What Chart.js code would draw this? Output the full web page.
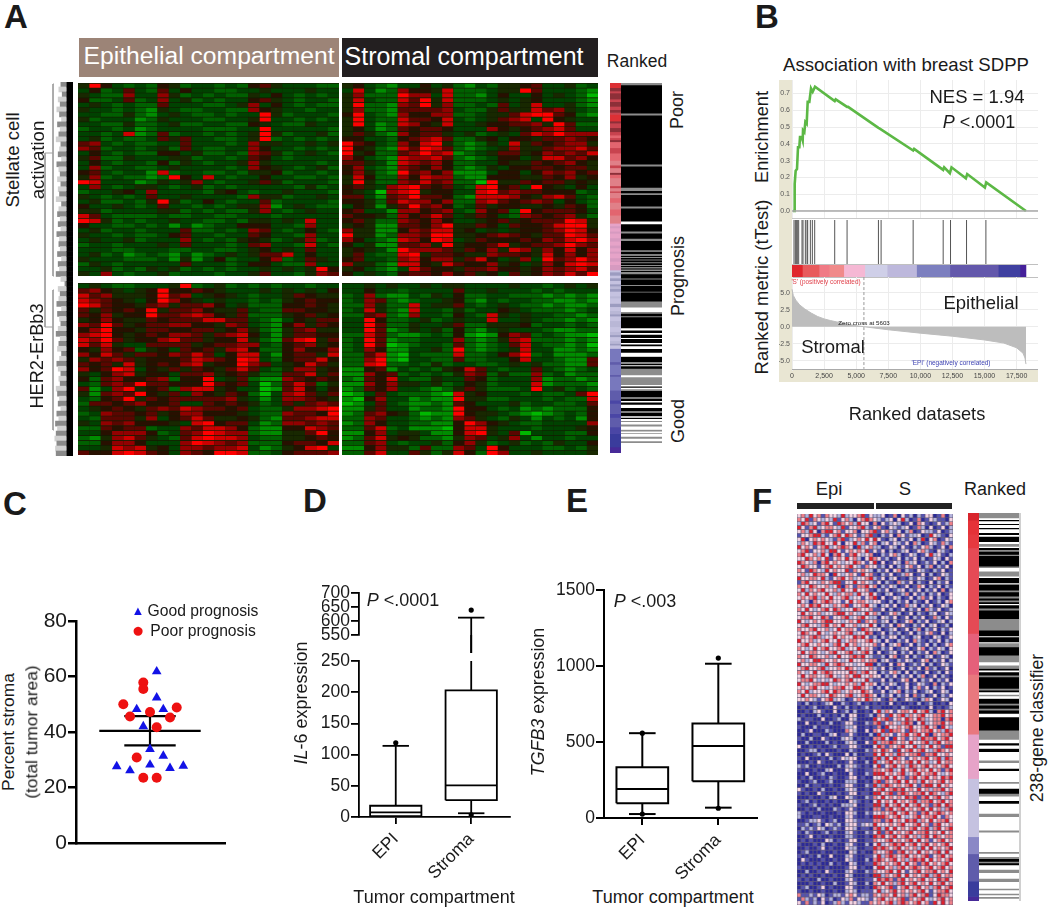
<!DOCTYPE html>
<html>
<head>
<meta charset="utf-8">
<title>Stromal and epithelial compartments</title>
<script src="https://cdn.jsdelivr.net/npm/chart.js@4/dist/chart.umd.min.js"></script>
<style>
html, body { margin: 0; background: #fff; }
#page { position: relative; width: 1050px; height: 910px; overflow: hidden; font-family: "Liberation Sans", Arial, sans-serif; color: #1a1a1a; }
#page canvas { position: absolute; }
.txt { position: absolute; white-space: nowrap; line-height: 1; }
.block { position: absolute; }
</style>
</head>
<body>
<div id="page"></div>
<script>
// panel A heat map, one letter per cell, 0 bright green .. 9 bright red
var epiTop = [
"49532 32542 33232 56433 322","35236 32635 33223 34333 433","43227 33742 32322 43532 323","52236 23734 23233 56432 332",
"34323 22633 32234 73532 322","43323 21432 23322 75433 233","33224 21343 22323 39423 332","42333 12433 32233 49332 323",
"33224 22342 23322 54322 433","23323 12333 32223 39333 332","33238 12623 32323 49423 342","34232 23646 33223 49232 323",
"67323 22336 33323 74433 434","76233 23426 32233 75332 323","35323 22553 42232 76423 432","46224 33344 23323 65323 333",
"35323 32524 32334 74333 323","37233 22343 33323 75432 342","56323 31823 32232 44523 323","47232 21295 38323 35332 232",
"98333 12434 73233 46423 332","37323 44323 42323 33332 423","23345 37333 32453 23343 332","43232 36334 33332 74423 343",
"34223 24942 35323 36233 332","53343 23633 23234 47134 322","44233 33442 32322 47323 433","86322 22322 33223 33233 333",
"98423 23343 32232 44343 833","53322 32313 12335 55332 733","34233 23336 22323 76323 532","43323 22356 33233 65332 733",
"34334 23337 32324 54234 723","23323 33436 33323 67332 832","33322 33322 33223 45343 633","34231 23213 12343 46683 533",
"43332 22314 13523 35723 643","24323 33336 33323 55322 733","33423 24342 32323 34343 495","43732 33423 33233 46332 476"
];
var stromaTop = [
"45321 33534 21324 45633 423","38312 75548 22234 49633 321","47222 97738 22135 33534 320","48322 86948 22234 34533 321",
"49221 76947 22326 34833 421","47221 66667 32246 44867 432","59321 75577 22344 68996 521","49322 86658 32346 78395 433",
"49312 87548 33455 66749 622","45312 65665 33375 45678 633","46421 75664 34234 36879 777","55332 56786 22453 55466 765",
"96532 75894 21243 84656 774","95421 86986 21234 74467 786","94522 67978 12346 64576 768","75321 87786 21235 53488 675",
"66431 87675 22335 44656 754","57321 76575 21243 55665 664","57421 96757 11135 53576 756","48522 75877 21155 54465 745",
"49422 76867 22094 46566 454","56437 89656 32895 63954 353","54307 89455 33896 76655 523","66316 79665 21888 75478 632",
"55426 87757 22786 56763 532","35414 69675 23645 54454 652","56331 77567 32756 29566 653","65542 75686 34653 27656 742",
"56422 76575 33456 45666 984","45411 66579 44653 65568 994","74411 57688 45343 45567 985","94412 77699 44567 65466 986",
"75321 87598 34655 56576 897","53411 66749 45568 45667 976","45431 97776 46574 87475 857","46322 89466 54476 65485 757",
"56332 78577 46853 47396 797","74421 88548 65574 53475 898","45321 38655 46675 54576 786","53432 56657 56453 64576 869"
];
var epiLow = [
"34322 33349 23423 23233 233","67543 45955 65433 34343 435","86744 45967 34543 23346 544","87654 35975 43433 23245 655",
"98655 46746 67534 22255 654","64656 59466 75446 32266 554","65745 59667 87546 22245 645","45754 46566 68866 32135 466",
"76964 56677 55476 32157 465","57955 46655 66457 42146 744","78954 56577 64678 53146 655","87964 55786 64558 42168 946",
"86843 36666 45667 73256 745","54756 24536 56478 52257 557","75864 66576 86358 83156 648","47676 45556 87659 83256 685",
"65648 45657 84559 76345 864","75698 35464 65468 63247 745","43578 45536 67456 42266 846","52675 56725 59346 21176 565",
"32676 96655 59656 30268 624","61379 45627 88453 30168 535","41676 95463 75465 20378 646","32569 46566 66674 31377 654",
"26656 75563 36565 42364 676","34565 46768 76656 32247 789","23766 56457 75554 32276 659","32666 47356 86445 42166 788",
"43767 55543 89566 31277 676","22656 62337 68875 21155 876","33577 75236 79877 21144 695","21478 64326 89887 32244 565",
"22577 53337 98767 22256 658","33487 84537 76778 31245 893","65589 86537 65998 22356 667"
];
var stromaLow = [
"33434 33434 43333 43323 434","33533 23333 63343 33232 333","23721 13243 52233 22212 121","23762 12334 52132 33221 121",
"22742 28344 63234 32212 112","23842 18332 42335 43222 123","22672 17332 53284 34332 212","33952 23423 43383 34322 121",
"33962 24334 62244 45233 232","33961 24342 52134 33321 122","22862 11232 51015 76232 110","23961 22333 72124 78222 121",
"23960 12332 62123 68322 120","23751 13342 92123 48331 121","22681 03222 82235 79231 112","22791 03322 62233 58332 116",
"22892 23242 33223 43422 116","11561 32324 58632 33632 123","11756 23232 47624 22723 122","21658 32243 36523 33712 212",
"11757 44342 35423 33812 221","12657 33212 46422 23934 232","01363 22210 84533 32322 369","10573 31211 94422 33323 228",
"01363 21121 65333 42332 236","11463 31221 95532 31212 225","12675 42011 95443 21012 325","22763 32121 76432 43132 315",
"12753 32211 59754 32233 337","22682 31110 58843 33233 345","11573 44311 58943 60333 225","12684 54221 47634 73133 233",
"22673 23342 57423 42324 335","11574 42622 76395 33322 324","22683 36424 85297 33433 334"
];

// panel A ranked strip and barcode, tone letter then run length
var rankStripA = ["r14","d10","m6","d18","m8","d14","m10","d8","m6","r20","d6","m14","d12","m10","s8","m6","d6","s18","m16","s22","t14","m8","t14","d6","s10","t24","m6","t10","m4","t16","s14","t20","s18","t24",
"p8","q6","p10","q6","p14","q10","p12","q8","p10","q6","p14","q10","p10","q16",
"l6","u10","l8","u8","l10","u6","v8","u8","l14","v6","l16","u10","l12","v10","u6","l14","v18","l14","v10","u6","l12","v8","u5","l10",
"b40","i8","b30","i6","b41","i30","n10","i30","n12","i28","n20","x40","y18"];
var rankBarsA = ["g6","k86","g6","k149","g6","k64","g10","k7","g5","k35","g6","k40","w8","k22","g6","k16","g7","k28","g5","k8","w3","k5","g3","k5","w2","k6","g3","k5","g3","k5","w2","k4","g4","k3","g7","k13","g3","k17","g3","k17","g3","k27","g18","w14","g5","k8","g3","k33","w7","k8","w5","k10","w3","k12","w5","k5","w8","k12","w12","k16","g6","k4","w3","k7","g20","w6","g24","w4","k4","w5","g5","k20","w3","k7","w5","k7","w10","k10","w3","k12","w4","k4","w6","g3","w8","g6","w10","g5","w5","g3","w8","g6","w8","g6"];

// panel B enrichment curve, gene hits, metric curve
var enrichRank = [78,156,208,286,390,468,572,624,754,832,858,962,1040,1144,1222,1352,1482,1612,1794,3328,3406,4290,4368,6734,6838,9438,9516,11778,11856,12298,12428,13546,13650,15028,15132,18226];
var enrichScore = [0,0,.16,.24,.25,.38,.38,.44,.44,.42,.48,.47,.53,.52,.65,.65,.73,.71,.74,.655,.665,.62,.62,.495,.49,.36,.37,.245,.26,.225,.26,.195,.22,.14,.17,0];
var enrichTicks = [0,.1,.2,.3,.4,.5,.6,.7];
var hitRanks = [156,260,338,416,520,780,858,1040,1170,1222,1430,1586,1768,3328,4290,6734,6942,9438,11778,12350,13598,15106];
var metricRank = [0,100,300,600,1000,1500,2000,2500,3000,3500,4000,5000,5603,7500,10000,12500,15000,16500,17500,18000,18150,18230];
var metricValue = [5.5,4.6,3.9,3.2,2.6,2,1.5,1.15,.9,.7,.5,.15,0,-.45,-.95,-1.4,-1.95,-2.4,-3.1,-3.9,-4.6,-5.5];
var metricTicks = [-5,-2.5,0,2.5,5];
var rankTicks = [0,2500,5000,7500,10000,12500,15000,17500];
var gseaStrip = [806,1300,780,1144,1638,1742,2288,2600,3770,1690,468];
var gseaStripColors = ["#e0262c","#e85a5c","#f07a85","#f08a8a","#f5b8d4","#cfcfe8","#bdb8dc","#7c7fbf","#6358ab","#3f40a0","#45209a"];

// panel C, offset from the column centre and percent stroma
var goodOffset = [6.7,6.7,-13.3,13.3,-6.7,0,13.3,0,-33.3,-20,20,33.3];
var goodStroma = [61.8,52.4,48.2,48.2,42,33.8,31.4,28.2,27.6,26.1,27,27.8];
var poorOffset = [-6.7,-6.7,-26.7,26.7,0,-20,20,6.7,-13.3,-6.7,6.7];
var poorStroma = [57.8,55.5,50,48.8,47.2,45.6,45.2,41.7,30.8,23.5,23.5];
var stromaMean = 40.4, stromaErrHigh = 45.7, stromaErrLow = 35.2;
var stromaTicks = [0,20,40,60,80];

// panels D and E, low whisker, q1, median, q3, high whisker
var compartments = ["EPI","Stroma"];
var il6Epi = [0,1.5,7.5,18,114], il6EpiOut = [119];
var il6Stroma = [6,27,50.7,203,612], il6StromaOut = [3.5,639];
var il6TicksLow = [0,50,100,150,200,250], il6TicksHigh = [550,600,650,700];
var tgfEpi = [26,97,191,334,558], tgfEpiOut = [26,558];
var tgfStroma = [68,241,474,621,1015], tgfStromaOut = [64,1052];
var tgfTicks = [0,500,1000,1500];

// panel F classifier, 0 deep blue .. 5 red
var classifier = [
"34253414332523345132 2301403120213301402","43514323251342034543 2123035201401321103","25423145315434253304 0312320130431013124","53145234432513345213 4103212301420301302",
"34253045534133403345 1342130240132213012","13345521345354312451 0213043122301532103","35034343214512343535 3102302130250340132","24325453353033524134 0231321304201321421",
"53431345234543052342 2013203102134201304","34513342553134343513 1302012301342103210","45334253045314532340 0213420132013523102","33543435134353420354 3120130213020132031",
"54324045343233543135 0301320423012130204","35433134534345321433 1203021341302402130","43154325343351434320 2130340210321021301","34235443053234315341 0213012430130201321",
"53344352134534233452 1302301021320134021","14533243455133534321 3021042130210302130","43354334235043144534 0213201301430213021","35243453342533533410 2130123021302130402",
"43534335324344253353 1023012403120213013","34345243533452331345 0301320130241302103","53204345433135344323 3102021302103012034","34354533243451334532 0231301423021301320",
"43532345354233543341 1302013021304213012","35343423345534323534 2013420130210230132","34453354133452345322 0321301302130142031","53234345533234351434 1230201340213012302",
"34533245343533423353 0213043102130230120","43345334235344315432 3012301302402130213","35433532343345233540 1302120130213410302","34345423353433545312 0213302102301032013",
"53342345335234433453 2031021304210213021","34533433245353423334 1302340130213020134","43235345334523353431 0213012301340213203","35344323453345234530 3012302130213042013",
"43354334235334545321 1203401302102301320","34235543343235334344 0231021320134021302","53344325345433233550 2103043012130201321","34533452334354323342 1302013021304120130",
"43235345433335424533 0213420302103012031","35344334532343553343 3021302130240130210","34453232354345333521 1302013403021302130","53234455323343425343 0213201301321040213",
"34345332344533554320 2031021302413021301","43523345354234335431 1302340213012301320","35344323543345234543 0213021304120130213","33432134523201343542 3104201321024301320",
"10201012300210120101 0103010010201200103","01012001031020101201 1000102100010301012",
"00102310030120200103 5243134435345204534","01000201010203300120 4315345243453344534","20110030012003200005 3451343543542344045","00300100200133100214 5134324540352344534",
"10002011000122300101 4053343453345340532","00130002100043200304 3515443154344534254","02001100230113100020 5243134534535043445","10020031000232010104 4530534134254453453",
"00200002010023200315 2445434353345245344","30010100120113310003 5414345335243534155","00122010001002100214 3543153453453245434","01001203100030200115 3534254344514453343",
"10300010201323301004 5253543134345345254","00010310010013100205 2345343453534235344","21200100002023210103 5134534254345343453","10001002300032100114 4345235345343534145",
"00300120010003100215 5534345234534453234","01020010210013301003 3453534145345343545","10012001200022200104 5143453534253434534","00201100100133100215 2454343453145535343",
"31001020010023200103 4534545343534244534","10100310001013301105 5345145434453543245","00010010230032100214 3534343545145345343","01201001010003210103 5343534345244534534",
"10012010100222300115 5253453534534145354","00100200021013100104 4145345343453534245","21010010001033200213 3434534534145345434","20001100100023100105 5543453234534453143",
"00122310120033211114 4145343545243534453","11201203212023312325 3334345334534145334","02121320121033201104 5253534345345245345","10210012010023100213 5145343453445343534",
"00130100100022100105 4534534534245354344","01010003201013300114 3345343453534134534","10001020010023100203 5234545345345343453","00100130100032200115 4543453434253534345",
"01200010010003201004 3345145343534345353","10010200300023100113 5245434534345134534","03100010010032100204 5434534245453534345","01010100201003200115 4343453534145343453",
"10001001000013301003 5534245345434534534","00200103100023100214 3345353134534453435","01010010010032000105 5243453534345245344","10100200100023100113 5454145343453435453",
"00010010020013200204 3534245345343534534","01200130100033100105 4345134534534245345","10010010010023201113 5234534343453134453","41121320122134312214 3443534245345135443",
"14212031201324133213 4534345143453234534","31412130124213321143 4345245434534153534"
];

// panel F ranked strip and barcode
var rankStripF = ["e22","f40","h40","j250","o120","c175","p130","l170","a50","i80","x45","y13"];
var rankBarsF = ["g15","w5","k4","w8","k3","w9","k4","w11","k6","w5","k16","w6","g8","w4","k6","g5","k9","g4","k32","g4","w11","g15","w4","k16","w4","k18","g5","k13","g6","k6","g5","k5","w4","k10","g6","k10","k15","g5","g30","k17","w3","k15","w3","g12","k25","g20","w10","g10","k5","w5","k10","g5","k10",
"k25","g5","k5","w8","g4","w8","k15","g5","k10","g5","k10","w10","k40","g28","w10","k7","w10","k10","w25","g8","w17","k7","w33","g5","w15","k15","g8","w14","k8","w30","g10","w40","g6","w59","g5","w10","g6","k8","g5","k6","w13","g10","w17","g10","w20","g5","w10","g5","w5","g5","w8"];

// dendrogram of panel A, leaf depth per row and the two brackets
var dendroDepth = [9,12,7,13,10,15,11,8,14,10,12,16,9,11,13,8,15,12,10,14,9,13,11,16,8,12,14,10,13,9,15,11,12,10,14,8,13,11,16,9,3,13,10,12,15,8,14,11,9,13,16,10,12,14,8,11,15,13,9,12,10,16,14,11,13,9,15,12,17,14,16,18,15,17,16];
var bracketHeight = [11,3,3,11], bracketRow = [71,71,245,245];
var clusterHeight = [12,11,11,12], clusterTopRow = [2,2,194,194], clusterLowRow = [208,208,348,348];

var toneColors = {k:"#000",g:"#8c8c8c",w:"#fff",r:"#dc3035",d:"#8d2f38",m:"#c8434f",s:"#e2656f",t:"#e08088",p:"#e6a3c8",q:"#d69ac0",v:"#b9b7d6",u:"#9c9cc0",l:"#c5c2e0",b:"#7878bd",i:"#5f5cab",n:"#4a46a5",x:"#3a3c9c",y:"#472a98",
    e:"#d8242c",f:"#e53238",h:"#e6393f",j:"#e54a55",o:"#e5607a",c:"#e8787e",a:"#8a88c6"};
var greenRed = ["#00b800","#008c00","#006000","#004200","#182800","#281000","#5a0600","#920000","#cc0000","#ff0000"];
var blueRed = ["#2c2a98","#5553b0","#b3b2db","#f3d2e0","#ee8088","#df1f2c"];

Chart.defaults.font.family = '"Liberation Sans", Arial, sans-serif';
Chart.defaults.color = "#1a1a1a";
Chart.defaults.animation = false;

var page = document.getElementById("page");

function block(l, t, r, b, color) {
    var d = document.createElement("div");
    d.className = "block";
    d.style.cssText = "left:" + l + "px;top:" + t + "px;width:" + (r - l) + "px;height:" + (b - t) + "px;background:" + color;
    page.appendChild(d);
}

function label(html, x, y, size, opts) {
    opts = opts || {};
    var d = document.createElement("div");
    d.className = "txt";
    d.innerHTML = html;
    d.style.left = x + "px";
    d.style.top = y + "px";
    d.style.fontSize = size + "px";
    if (opts.bold) d.style.fontWeight = "bold";
    if (opts.color) d.style.color = opts.color;
    d.style.transform = "translate(-50%,-50%)" + (opts.vertical ? " rotate(-90deg)" : "");
    page.appendChild(d);
}

function newCanvas(l, t, w, h, bg) {
    var c = document.createElement("canvas");
    c.width = w;
    c.height = h;
    c.style.left = l + "px";
    c.style.top = t + "px";
    c.style.width = w + "px";
    c.style.height = h + "px";
    if (bg) c.style.background = bg;
    page.appendChild(c);
    return c;
}

var quiet = { legend: { display: false }, tooltip: { enabled: false } };
var hidden = { display: false, stacked: true };

// stacked unit bars, one dataset per row
function heat(l, t, r, b, rows, palette, extra, bg) {
    var cells = rows.map(function (row) { return row.replace(/ /g, "").split(""); });
    var datasets = cells.map(function (row) {
        return Object.assign({
            data: row.map(function () { return 1; }),
            backgroundColor: row.map(function (c) { return palette[+c]; }),
            barPercentage: 1, categoryPercentage: 1
        }, extra);
    });
    new Chart(newCanvas(l, t, r - l, b - t, bg), {
        type: "bar",
        data: { labels: cells[0].map(function (c, i) { return i; }), datasets: datasets },
        options: {
            responsive: false, plugins: quiet,
            scales: { x: hidden, y: { display: false, stacked: true, reverse: true, min: 0, max: rows.length } }
        }
    });
}

var rowStripes = { inflateAmount: 0.33, borderWidth: { top: 1, bottom: 0, left: 0, right: 0 }, borderSkipped: false, borderColor: "rgba(10,20,0,.28)" };
var cellGrid = { inflateAmount: 0, borderWidth: 0.4, borderColor: "rgba(70,60,100,.45)" };

// one stacked column of runs, used for the ranked strips and barcodes
function runs(l, t, r, b, tokens) {
    var lengths = tokens.map(function (s) { return +s.slice(1); });
    var total = lengths.reduce(function (a, v) { return a + v; }, 0);
    new Chart(newCanvas(l, t, r - l, b - t), {
        type: "bar",
        data: {
            labels: ["rank"],
            datasets: tokens.map(function (s, i) {
                return { data: [lengths[i]], backgroundColor: toneColors[s[0]], barPercentage: 1, categoryPercentage: 1, borderWidth: 0 };
            })
        },
        options: {
            responsive: false, plugins: quiet,
            scales: { x: hidden, y: { display: false, stacked: true, reverse: true, min: 0, max: total } }
        }
    });
}

function ticksAt(values) {
    return function (scale) { scale.ticks = values.map(function (v) { return { value: v }; }); };
}

// scatter chart whose plot area lands exactly on l,t,r,b
function plot(l, t, r, b, m, datasets, x, y) {
    x.afterFit = function (s) { s.height = m.bottom; s.paddingLeft = 0; s.paddingRight = 0; };
    y.afterFit = function (s) { s.width = m.left; s.paddingTop = 0; s.paddingBottom = 0; };
    var pad = { top: m.top, right: m.right, left: y.display === false ? m.left : 0, bottom: x.display === false ? m.bottom : 0 };
    return new Chart(newCanvas(l - m.left, t - m.top, m.left + r - l + m.right, m.top + b - t + m.bottom), {
        type: "scatter",
        data: { datasets: datasets },
        options: { responsive: false, layout: { padding: pad }, plugins: quiet, scales: { x: x, y: y } }
    });
}

function points(xs, ys) {
    return xs.map(function (v, i) { return { x: v, y: ys[i] }; });
}

function stroke(data, color, width, dash) {
    return { data: data, showLine: true, borderColor: color, borderWidth: width, borderDash: dash || [], pointRadius: 0, clip: false, tension: 0 };
}

function blackAxis(width, ticks, size, tickLen) {
    return {
        min: ticks[0], max: ticks[ticks.length - 1],
        afterBuildTicks: ticksAt(ticks),
        grid: { drawOnChartArea: false, color: "#000", lineWidth: width, tickLength: tickLen },
        border: { color: "#000", width: width },
        ticks: { font: { size: size }, padding: 1, color: "#1a1a1a", autoSkip: false, callback: function (v) { return String(v); } }
    };
}

// box, median, whiskers and caps as line datasets
function boxSets(cx, v, out, bw, topWhisker, bottomWhisker) {
    var half = 0.34, cap = 0.175, sets = [];
    sets.push(stroke(points([cx - half, cx + half, cx + half, cx - half, cx - half], [v[1], v[1], v[3], v[3], v[1]]), "#000", bw));
    sets.push(stroke(points([cx - half, cx + half], [v[2], v[2]]), "#000", bw));
    sets.push(stroke(points([cx, cx], [v[3], topWhisker]), "#000", bw));
    sets.push(stroke(points([cx, cx], [v[1], bottomWhisker]), "#000", bw));
    if (topWhisker == v[4]) sets.push(stroke(points([cx - cap, cx + cap], [v[4], v[4]]), "#000", bw));
    if (bottomWhisker == v[0] && v[0] > 0) sets.push(stroke(points([cx - cap, cx + cap], [v[0], v[0]]), "#000", bw));
    sets.push({ data: out.map(function (o) { return { x: cx, y: o }; }), pointRadius: 2.6, pointBackgroundColor: "#000", pointBorderWidth: 0, clip: false });
    return sets;
}

function categoryAxis(width, min, max) {
    return {
        min: min, max: max,
        afterBuildTicks: ticksAt([1, 2]),
        grid: { drawOnChartArea: false, color: "#000", lineWidth: width, tickLength: 7 },
        border: { color: "#000", width: width },
        ticks: {
            font: { size: 17.5 }, color: "#1a1a1a", maxRotation: 45, minRotation: 45, padding: 5, autoSkip: false,
            callback: function (v, i) { return compartments[i]; }
        }
    };
}

/* ---------- panel A ---------- */
label("A", 16, 16, 33, { bold: true });
block(79, 38, 339, 77, "#9c8477");
block(342, 38, 598, 77, "#231f20");
label("Epithelial compartment", 209, 56, 24.7, { color: "#fff" });
label("Stromal compartment", 464, 56, 25, { color: "#fff" });
label("Ranked", 637, 62, 17.5);
heat(78, 83, 339, 276, epiTop, greenRed, rowStripes, "#142000");
heat(342, 83, 598, 276, stromaTop, greenRed, rowStripes, "#142000");
heat(78, 283, 339, 455, epiLow, greenRed, rowStripes, "#142000");
heat(342, 283, 598, 455, stromaLow, greenRed, rowStripes, "#142000");
runs(610, 83, 621, 453, rankStripA);
runs(621, 83, 662, 443, rankBarsA);

new Chart(newCanvas(42, 82, 31, 374), {
    type: "bar",
    data: {
        labels: dendroDepth.map(function (d, i) { return i; }),
        datasets: [
            { data: dendroDepth.map(function () { return 9; }), backgroundColor: "#000", barPercentage: 1, categoryPercentage: 1 },
            { data: dendroDepth, backgroundColor: dendroDepth.map(function (d, i) { return i % 2 ? "#d0d0d0" : "#8a8a8a"; }), barPercentage: 1, categoryPercentage: 1 }
        ]
    },
    options: {
        indexAxis: "y", responsive: false, plugins: quiet,
        scales: { x: { display: false, stacked: true, reverse: true, min: 0, max: 46 }, y: { display: false, stacked: true } }
    }
});
new Chart(newCanvas(42, 82, 31, 374), {
    type: "scatter",
    data: { datasets: [
        stroke(points(bracketHeight, bracketRow), "#a0a0a0", 1),
        stroke(points(clusterHeight, clusterTopRow), "#a0a0a0", 1),
        stroke(points(clusterHeight, clusterLowRow), "#a0a0a0", 1)
    ] },
    options: {
        responsive: false, plugins: quiet,
        scales: { x: { display: false, min: 0, max: 31 }, y: { display: false, reverse: true, min: 0, max: 374 } }
    }
});

label("Stellate cell", 13, 160, 18.6, { vertical: true });
label("activation", 38, 160, 18.6, { vertical: true });
label("HER2-ErBb3", 37, 356, 18.2, { vertical: true });
label("Poor", 677, 110, 18, { vertical: true });
label("Prognosis", 678, 276, 18, { vertical: true });
label("Good", 678, 421, 18, { vertical: true });

/* ---------- panel B ---------- */
label("B", 767, 16, 33, { bold: true });
label("Association with breast SDPP", 906, 65, 18.6);
block(779, 80, 1038, 382, "#e9e6d3");
block(792, 80, 1038, 369, "#fff");

var gseaX = 19165;
var faintGrid = { color: "#ececec", drawTicks: false };

plot(792, 80, 1038, 218, { left: 13, right: 0, top: 0, bottom: 0 }, [
    stroke(points([0, gseaX], [0, 0]), "#a9a9a9", 1.5),
    stroke(points(enrichRank, enrichScore), "#5cb845", 2.6)
], {
    min: 0, max: gseaX, afterBuildTicks: ticksAt(rankTicks), grid: faintGrid, border: { display: false }, ticks: { display: false }
}, {
    min: -0.0417, max: 0.78, afterBuildTicks: ticksAt(enrichTicks), grid: faintGrid, border: { display: false },
    ticks: { font: { size: 7 }, color: "#555", padding: 2, callback: function (v) { return v.toFixed(1); } }
});
block(792, 218, 1038, 219, "#c8c8c8");

var hitSets = hitRanks.map(function (h) { return stroke(points([h, h], [0, 1]), "#555", 1); });
plot(792, 220, 1038, 265, { left: 0, right: 0, top: 0, bottom: 0 }, hitSets,
    { display: false, min: 0, max: gseaX }, { display: false, min: 0, max: 1 });

new Chart(newCanvas(792, 265, 246, 12), {
    type: "bar",
    data: {
        labels: ["strip"],
        datasets: gseaStrip.map(function (v, i) {
            return { data: [v], backgroundColor: gseaStripColors[i], barPercentage: 1, categoryPercentage: 1 };
        })
    },
    options: {
        indexAxis: "y", responsive: false, plugins: quiet,
        scales: { x: { display: false, stacked: true, min: 0, max: gseaX }, y: hidden }
    }
});
block(792, 264, 1038, 265, "#c0c0c0");
block(792, 277, 1038, 278, "#c0c0c0");

var metricArea = stroke(points(metricRank, metricValue), "#bdbdbd", 1);
metricArea.fill = "origin";
metricArea.backgroundColor = "#bdbdbd";
plot(792, 277, 1038, 369, { left: 13, right: 0, top: 0, bottom: 13 }, [
    metricArea,
    stroke(points([5603, 5603], [7.3, -6.2]), "#999", 1, [3, 2])
], {
    min: 0, max: gseaX, afterBuildTicks: ticksAt(rankTicks),
    grid: { color: "#ececec", tickLength: 2 }, border: { color: "#aaa" },
    ticks: { font: { size: 7 }, color: "#444", padding: 1, maxRotation: 0, autoSkip: false, callback: function (v) { return v.toLocaleString("en-US"); } }
}, {
    min: -6.22, max: 7.31, afterBuildTicks: ticksAt(metricTicks), grid: faintGrid, border: { display: false },
    ticks: { font: { size: 7 }, color: "#555", padding: 2, callback: function (v) { return v.toFixed(1); } }
});

label("NES = 1.94", 977, 97, 18.5);
label("<i>P</i> &lt;.0001", 979, 122, 18);
label("Enrichment", 762, 137, 18.2, { vertical: true });
label("Ranked metric (tTest)", 762, 287, 18.4, { vertical: true });
label("Ranked datasets", 917, 414, 18.2);
label("Epithelial", 981, 303, 18.5);
label("Stromal", 833, 347, 18.5);
label("'S' (positively correlated)", 826, 282, 6.4, { color: "#e0404a" });
label("Zero cross at 5603", 864, 323, 6.2, { color: "#222" });
label("'EPI' (negatively correlated)", 951, 363, 6.5, { color: "#3a3fb0" });

/* ---------- panel C ---------- */
label("C", 15, 503, 33, { bold: true });
var cY = blackAxis(2.5, stromaTicks, 21, 8);
var cX = {
    min: -74, max: 75, afterBuildTicks: ticksAt([]),
    grid: { display: false }, border: { color: "#000", width: 2.5 }, ticks: { display: false }
};
plot(76, 621, 225, 843, { left: 36, right: 6, top: 14, bottom: 14 }, [
    { data: points(goodOffset, goodStroma), pointStyle: "triangle", pointRadius: 5.6, pointBackgroundColor: "#1212e6", pointBorderWidth: 0, clip: false },
    { data: points(poorOffset, poorStroma), pointRadius: 5, pointBackgroundColor: "#ee1111", pointBorderWidth: 0, clip: false },
    stroke(points([-50.7, 50.7], [stromaMean, stromaMean]), "#000", 2.2),
    stroke(points([-25.7, 25.7], [stromaErrHigh, stromaErrHigh]), "#000", 2.2),
    stroke(points([-25.7, 25.7], [stromaErrLow, stromaErrLow]), "#000", 2.2),
    stroke(points([0, 0], [stromaErrLow, stromaErrHigh]), "#000", 2.2)
], cX, cY);
label('<span style="color:#1212e6">&#9650;</span>', 138, 610, 13, {});
label('<span style="color:#ee1111">&#9679;</span>', 138, 629, 21, {});
label("Good prognosis", 203, 611, 15.7);
label("Poor prognosis", 203, 631, 15.7);
label("Percent stroma", 9, 732, 17.4, { vertical: true });
label("(total tumor area)", 32, 732, 17.4, { vertical: true });

/* ---------- panel D ---------- */
label("D", 315, 500, 33, { bold: true });
var dMin = 0.513, dMax = 2.514;
plot(359, 593, 510, 644, { left: 37, right: 4, top: 10, bottom: 9 },
    boxSets(2, il6Stroma, [il6StromaOut[1]], 1.8, il6Stroma[4], 550),
    { display: false, min: dMin, max: dMax },
    blackAxis(1.8, il6TicksHigh, 17.5, 8));
plot(359, 661, 510, 817, { left: 37, right: 4, top: 9, bottom: 66 },
    boxSets(1, il6Epi, il6EpiOut, 1.8, il6Epi[4], il6Epi[0]).concat(boxSets(2, il6Stroma, [il6StromaOut[0]], 1.8, 250, il6Stroma[0])),
    categoryAxis(1.8, dMin, dMax),
    blackAxis(1.8, il6TicksLow, 17.5, 8));
label("<i>IL</i>-6 expression", 301, 703, 18, { vertical: true });
label("<i>P</i> &lt;.0001", 403, 600, 18);
label("Tumor compartment", 434, 897, 18);

/* ---------- panel E ---------- */
label("E", 577, 500, 33, { bold: true });
plot(604, 590, 757, 818, { left: 50, right: 4, top: 10, bottom: 66 },
    boxSets(1, tgfEpi, tgfEpiOut, 2, tgfEpi[4], tgfEpi[0]).concat(boxSets(2, tgfStroma, tgfStromaOut, 2, tgfStroma[4], tgfStroma[0])),
    categoryAxis(2, 0.496, 2.509),
    blackAxis(2, tgfTicks, 17.5, 8));
label("<i>TGFB3</i> expression", 539, 702, 17.8, { vertical: true });
label("<i>P</i> &lt;.003", 645, 601, 18);
label("Tumor compartment", 673, 897, 18);

/* ---------- panel F ---------- */
label("F", 762, 500, 33, { bold: true });
label("Epi", 829, 489, 18.5);
label("S", 905, 489, 18.5);
label("Ranked", 995, 489, 18);
block(797, 503, 874, 509, "#222");
block(876, 503, 952, 509, "#222");
heat(797, 514, 953, 905, classifier, blueRed, cellGrid, "#6b6480");
runs(968, 513, 979, 901, rankStripF);
runs(979, 513, 1019, 901, rankBarsF);
block(1019, 513, 1021, 901, "#d0d0d0");
label("238-gene classifier", 1038, 728, 17.7, { vertical: true });
</script>
</body>
</html>
